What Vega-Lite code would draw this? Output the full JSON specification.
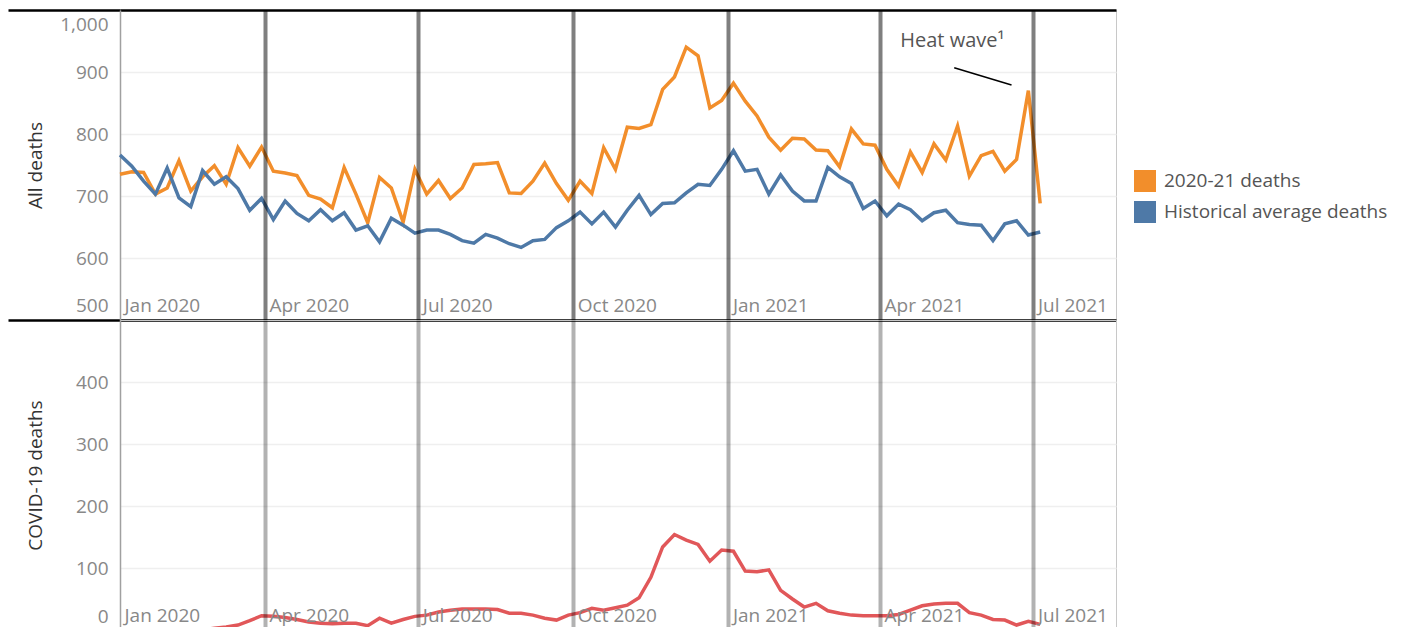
{
  "$schema": "https://vega.github.io/schema/vega-lite/v6.json",
  "background": "white",
  "padding": {"left": 5, "top": 8, "right": 5, "bottom": 0},
  "spacing": 0,
  "bounds": "flush",
  "config": {
    "font": "Open Sans",
    "view": {"stroke": "#c8c8c8", "strokeWidth": 1},
    "axis": {"labelFont": "Open Sans", "titleFont": "Open Sans"},
    "legend": {"labelFont": "Open Sans"},
    "text": {"font": "Open Sans"}
  },
  "datasets": {
    "weekly": [
      {"date": "2020-01-06", "actual": 735, "historical": 766, "covid": 0},
      {"date": "2020-01-13", "actual": 739, "historical": 748, "covid": 0},
      {"date": "2020-01-20", "actual": 738, "historical": 724, "covid": 0},
      {"date": "2020-01-27", "actual": 703, "historical": 703, "covid": 0},
      {"date": "2020-02-03", "actual": 713, "historical": 745, "covid": 0},
      {"date": "2020-02-10", "actual": 757, "historical": 697, "covid": 0},
      {"date": "2020-02-17", "actual": 708, "historical": 683, "covid": 0},
      {"date": "2020-02-24", "actual": 731, "historical": 741, "covid": 0},
      {"date": "2020-03-02", "actual": 749, "historical": 719, "covid": 3},
      {"date": "2020-03-09", "actual": 719, "historical": 731, "covid": 5},
      {"date": "2020-03-16", "actual": 778, "historical": 712, "covid": 8},
      {"date": "2020-03-23", "actual": 748, "historical": 677, "covid": 15},
      {"date": "2020-03-30", "actual": 779, "historical": 696, "covid": 23},
      {"date": "2020-04-06", "actual": 740, "historical": 662, "covid": 22},
      {"date": "2020-04-13", "actual": 737, "historical": 692, "covid": 20},
      {"date": "2020-04-20", "actual": 733, "historical": 672, "covid": 17},
      {"date": "2020-04-27", "actual": 701, "historical": 660, "covid": 13},
      {"date": "2020-05-04", "actual": 695, "historical": 678, "covid": 11},
      {"date": "2020-05-11", "actual": 681, "historical": 660, "covid": 10},
      {"date": "2020-05-18", "actual": 746, "historical": 673, "covid": 11},
      {"date": "2020-05-25", "actual": 703, "historical": 645, "covid": 11},
      {"date": "2020-06-01", "actual": 657, "historical": 652, "covid": 7},
      {"date": "2020-06-08", "actual": 730, "historical": 626, "covid": 19},
      {"date": "2020-06-15", "actual": 713, "historical": 664, "covid": 11},
      {"date": "2020-06-22", "actual": 658, "historical": 653, "covid": 17},
      {"date": "2020-06-29", "actual": 743, "historical": 640, "covid": 22},
      {"date": "2020-07-06", "actual": 703, "historical": 645, "covid": 24},
      {"date": "2020-07-13", "actual": 725, "historical": 645, "covid": 29},
      {"date": "2020-07-20", "actual": 696, "historical": 638, "covid": 32},
      {"date": "2020-07-27", "actual": 713, "historical": 628, "covid": 34},
      {"date": "2020-08-03", "actual": 751, "historical": 624, "covid": 34},
      {"date": "2020-08-10", "actual": 752, "historical": 638, "covid": 34},
      {"date": "2020-08-17", "actual": 754, "historical": 632, "covid": 33},
      {"date": "2020-08-24", "actual": 705, "historical": 623, "covid": 27},
      {"date": "2020-08-31", "actual": 704, "historical": 617, "covid": 27},
      {"date": "2020-09-07", "actual": 724, "historical": 628, "covid": 24},
      {"date": "2020-09-14", "actual": 753, "historical": 630, "covid": 19},
      {"date": "2020-09-21", "actual": 720, "historical": 649, "covid": 16},
      {"date": "2020-09-28", "actual": 693, "historical": 660, "covid": 24},
      {"date": "2020-10-05", "actual": 724, "historical": 674, "covid": 28},
      {"date": "2020-10-12", "actual": 704, "historical": 655, "covid": 35},
      {"date": "2020-10-19", "actual": 778, "historical": 674, "covid": 32},
      {"date": "2020-10-26", "actual": 743, "historical": 650, "covid": 36},
      {"date": "2020-11-02", "actual": 811, "historical": 677, "covid": 40},
      {"date": "2020-11-09", "actual": 809, "historical": 701, "covid": 52},
      {"date": "2020-11-16", "actual": 815, "historical": 670, "covid": 85},
      {"date": "2020-11-23", "actual": 872, "historical": 688, "covid": 134},
      {"date": "2020-11-30", "actual": 892, "historical": 689, "covid": 154},
      {"date": "2020-12-07", "actual": 940, "historical": 705, "covid": 145},
      {"date": "2020-12-14", "actual": 926, "historical": 719, "covid": 138},
      {"date": "2020-12-21", "actual": 842, "historical": 717, "covid": 111},
      {"date": "2020-12-28", "actual": 854, "historical": 743, "covid": 129},
      {"date": "2021-01-04", "actual": 882, "historical": 773, "covid": 127},
      {"date": "2021-01-11", "actual": 853, "historical": 740, "covid": 95},
      {"date": "2021-01-18", "actual": 829, "historical": 743, "covid": 94},
      {"date": "2021-01-25", "actual": 795, "historical": 703, "covid": 97},
      {"date": "2021-02-01", "actual": 774, "historical": 734, "covid": 64},
      {"date": "2021-02-08", "actual": 793, "historical": 708, "covid": 50},
      {"date": "2021-02-15", "actual": 792, "historical": 692, "covid": 37},
      {"date": "2021-02-22", "actual": 774, "historical": 692, "covid": 43},
      {"date": "2021-03-01", "actual": 773, "historical": 746, "covid": 31},
      {"date": "2021-03-08", "actual": 747, "historical": 731, "covid": 27},
      {"date": "2021-03-15", "actual": 808, "historical": 720, "covid": 24},
      {"date": "2021-03-22", "actual": 784, "historical": 680, "covid": 23},
      {"date": "2021-03-29", "actual": 782, "historical": 692, "covid": 23},
      {"date": "2021-04-05", "actual": 743, "historical": 668, "covid": 23},
      {"date": "2021-04-12", "actual": 716, "historical": 687, "covid": 25},
      {"date": "2021-04-19", "actual": 771, "historical": 678, "covid": 32},
      {"date": "2021-04-26", "actual": 738, "historical": 660, "covid": 39},
      {"date": "2021-05-03", "actual": 784, "historical": 673, "covid": 42},
      {"date": "2021-05-10", "actual": 758, "historical": 677, "covid": 43},
      {"date": "2021-05-17", "actual": 813, "historical": 657, "covid": 43},
      {"date": "2021-05-24", "actual": 732, "historical": 654, "covid": 28},
      {"date": "2021-05-31", "actual": 765, "historical": 653, "covid": 24},
      {"date": "2021-06-07", "actual": 772, "historical": 628, "covid": 17},
      {"date": "2021-06-14", "actual": 740, "historical": 655, "covid": 16},
      {"date": "2021-06-21", "actual": 759, "historical": 660, "covid": 8},
      {"date": "2021-06-28", "actual": 870, "historical": 637, "covid": 14},
      {"date": "2021-07-05", "actual": 688, "historical": 642, "covid": 9}
    ],
    "heatLabel": [{"date": "2021-04-13", "deaths": 950, "label": "Heat wave¹"}],
    "heatLine": [{"date": "2021-05-15", "deaths": 907, "date2": "2021-06-18", "deaths2": 879}]
  },
  "vconcat": [
    {
      "width": 996,
      "height": 310,
      "encoding": {
        "x": {
          "field": "date",
          "type": "temporal",
          "scale": {"type": "utc", "domain": [{"year": 2020, "month": 1, "date": 6, "utc": true}, {"year": 2021, "month": 8, "date": 19, "utc": true}]},
          "axis": {
            "values": [
              {"year": 2020, "month": 1, "date": 6, "utc": true},
              {"year": 2020, "month": 4, "date": 1, "utc": true},
              {"year": 2020, "month": 7, "date": 1, "utc": true},
              {"year": 2020, "month": 10, "date": 1, "utc": true},
              {"year": 2021, "month": 1, "date": 1, "utc": true},
              {"year": 2021, "month": 4, "date": 1, "utc": true},
              {"year": 2021, "month": 7, "date": 1, "utc": true}
            ],
            "format": "%b %Y",
            "orient": "bottom",
            "title": null,
            "domain": false,
            "ticks": false,
            "labelAlign": "left",
            "labelBaseline": "middle",
            "labelPadding": -15,
            "labelOffset": 4,
            "labelFontSize": 19,
            "labelColor": "#888888",
            "labelFlush": false,
            "labelOverlap": false,
            "labelBound": false,
            "grid": true,
            "gridColor": "#000000",
            "gridWidth": 4,
            "gridOpacity": {"condition": {"test": "utcyear(datum.value) == 2020 && utcmonth(datum.value) == 0", "value": 0}, "value": 0.5},
            "zindex": 1
          }
        },
        "y": {
          "field": "deaths",
          "type": "quantitative",
          "scale": {"domain": [500, 1000], "nice": false, "zero": false},
          "axis": {
            "values": [500, 600, 700, 800, 900, 1000],
            "format": ",d",
            "title": "All deaths",
            "titleFontSize": 19,
            "titleFontWeight": "normal",
            "titleColor": "#333333",
            "titleAngle": -90,
            "titleX": -85,
            "titleY": 155,
            "titleAlign": "center",
            "titleBaseline": "middle",
            "grid": true,
            "gridColor": {"condition": {"test": "datum.value == 500 || datum.value == 1000", "value": "#000000"}, "value": "#efefef"},
            "gridWidth": {"condition": {"test": "datum.value == 500 || datum.value == 1000", "value": 2.5}, "value": 1.5},
            "ticks": true,
            "tickSize": 112,
            "tickWidth": 2.5,
            "tickColor": {"condition": {"test": "datum.value == 500 || datum.value == 1000", "value": "#000000"}, "value": "transparent"},
            "labelPadding": -100,
            "labelFlush": true,
            "labelFlushOffset": -5,
            "labelFontSize": 19,
            "labelColor": "#888888",
            "domain": true,
            "domainColor": "#a0a0a0",
            "domainWidth": 1.5,
            "minExtent": 114,
            "maxExtent": 114
          }
        }
      },
      "layer": [
        {
          "data": {"name": "weekly"},
          "transform": [{"fold": ["actual", "historical"], "as": ["series", "deaths"]}],
          "mark": {"type": "line", "strokeWidth": 3.5},
          "encoding": {
            "color": {
              "field": "series",
              "type": "nominal",
              "scale": {"domain": ["actual", "historical"], "range": ["#F28E2B", "#4E79A7"]},
              "legend": {
                "orient": "none",
                "legendX": 1014,
                "legendY": 160,
                "title": null,
                "symbolType": "square",
                "symbolSize": 484,
                "symbolStrokeWidth": 0,
                "labelFontSize": 19,
                "labelColor": "#555555",
                "labelOffset": 8,
                "labelLimit": 400,
                "rowPadding": 9,
                "labelExpr": "datum.label == 'actual' ? '2020-21 deaths' : 'Historical average deaths'",
                "encode": {"symbols": {"update": {"fill": {"scale": "color", "field": "value"}, "fillOpacity": {"value": 1}, "strokeWidth": {"value": 0}}}}
              }
            }
          }
        },
        {
          "data": {"name": "heatLine"},
          "mark": {"type": "rule", "color": "#000000", "strokeWidth": 1.5},
          "encoding": {"x2": {"field": "date2"}, "y2": {"field": "deaths2"}}
        },
        {
          "data": {"name": "heatLabel"},
          "mark": {"type": "text", "align": "left", "baseline": "middle", "fontSize": 20, "color": "#555555"},
          "encoding": {"text": {"field": "label"}}
        }
      ]
    },
    {
      "width": 996,
      "height": 310,
      "data": {"name": "weekly"},
      "mark": {"type": "line", "strokeWidth": 3.5, "color": "#E15759"},
      "encoding": {
        "x": {
          "field": "date",
          "type": "temporal",
          "scale": {"type": "utc", "domain": [{"year": 2020, "month": 1, "date": 6, "utc": true}, {"year": 2021, "month": 8, "date": 19, "utc": true}]},
          "axis": {
            "values": [
              {"year": 2020, "month": 1, "date": 6, "utc": true},
              {"year": 2020, "month": 4, "date": 1, "utc": true},
              {"year": 2020, "month": 7, "date": 1, "utc": true},
              {"year": 2020, "month": 10, "date": 1, "utc": true},
              {"year": 2021, "month": 1, "date": 1, "utc": true},
              {"year": 2021, "month": 4, "date": 1, "utc": true},
              {"year": 2021, "month": 7, "date": 1, "utc": true}
            ],
            "format": "%b %Y",
            "orient": "bottom",
            "title": null,
            "domain": false,
            "ticks": false,
            "labelAlign": "left",
            "labelBaseline": "middle",
            "labelPadding": -15,
            "labelOffset": 4,
            "labelFontSize": 19,
            "labelColor": "#888888",
            "labelFlush": false,
            "labelOverlap": false,
            "labelBound": false,
            "grid": true,
            "gridColor": "#000000",
            "gridWidth": 4,
            "gridOpacity": {"condition": {"test": "utcyear(datum.value) == 2020 && utcmonth(datum.value) == 0", "value": 0}, "value": 0.3},
            "zindex": 1
          }
        },
        "y": {
          "field": "covid",
          "type": "quantitative",
          "scale": {"domain": [0, 500], "nice": false},
          "axis": {
            "values": [0, 100, 200, 300, 400],
            "title": "COVID-19 deaths",
            "titleFontSize": 19,
            "titleFontWeight": "normal",
            "titleColor": "#333333",
            "titleAngle": -90,
            "titleX": -85,
            "titleY": 155,
            "titleAlign": "center",
            "titleBaseline": "middle",
            "grid": true,
            "gridColor": "#efefef",
            "gridWidth": 1.5,
            "ticks": false,
            "labelPadding": 12,
            "labelFlush": true,
            "labelFlushOffset": -4,
            "labelFontSize": 19,
            "labelColor": "#888888",
            "domain": true,
            "domainColor": "#a0a0a0",
            "domainWidth": 1.5,
            "minExtent": 114,
            "maxExtent": 114
          }
        }
      }
    }
  ]
}
